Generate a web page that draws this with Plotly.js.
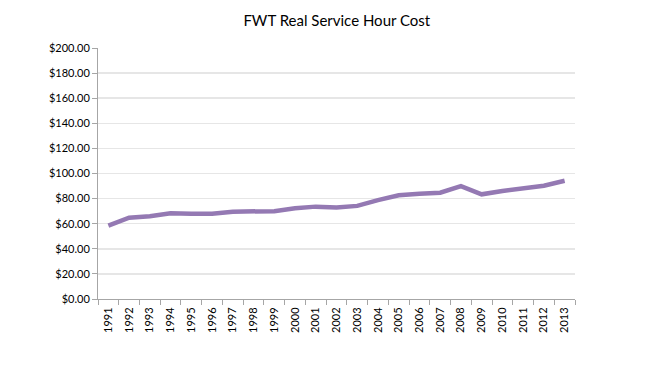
<!DOCTYPE html>
<html>
<head>
<meta charset="utf-8">
<script src="https://cdn.plot.ly/plotly-3.0.1.min.js"></script>
<style>html,body{margin:0;padding:0;background:#fff;}#chart{width:654px;height:369px;}</style>
</head>
<body>
<div id="chart"></div>
<script>
var years = ["1991","1992","1993","1994","1995","1996","1997","1998","1999","2000","2001","2002","2003","2004","2005","2006","2007","2008","2009","2010","2011","2012","2013"];
var cost = [58.4, 64.8, 66.0, 68.3, 68.0, 68.0, 69.6, 69.8, 70.0, 72.3, 73.6, 73.0, 74.2, 78.8, 82.6, 83.9, 84.7, 90.0, 83.4, 86.0, 88.4, 90.3, 94.2];
var yTicks = [0,20,40,60,80,100,120,140,160,180,200];
var yTickText = yTicks.map(function(v){return "$" + v.toFixed(2);});

Plotly.newPlot("chart", [{
  type: "scatter", mode: "lines", x: years, y: cost,
  line: {color: "#9479b3", width: 4.5}
}], {
  width: 654, height: 369,
  margin: {l: 98, r: 79, t: 48, b: 70},
  paper_bgcolor: "#fff", plot_bgcolor: "#fff",
  showlegend: false,
  font: {family: "Lato, 'Open Sans', sans-serif", color: "#000", size: 11},
  title: {text: "FWT Real Service Hour Cost", x: 0.515, xanchor: "center", y: 0.945, yanchor: "middle",
          font: {family: "Lato, 'Open Sans', sans-serif", size: 15, color: "#000"}},
  xaxis: {type: "category", range: [-0.5, years.length - 0.5], autorange: false,
          tickangle: -90, tickson: "boundaries", ticks: "outside", ticklen: 5,
          ticklabelstandoff: 3,
          tickcolor: "#a6a6a6", showline: true, linecolor: "#a6a6a6", linewidth: 1,
          showgrid: false, zeroline: false, tickfont: {size: 11}},
  yaxis: {range: [0, 200], tickvals: yTicks, ticktext: yTickText, ticks: "outside", ticklen: 5,
          tickcolor: "#a6a6a6", showline: true, linecolor: "#a6a6a6", linewidth: 1,
          showgrid: true, gridcolor: "#e6e6e6", gridwidth: 1.5, zeroline: false, tickfont: {size: 11}}
}, {displayModeBar: false, staticPlot: true});
</script>
</body>
</html>
